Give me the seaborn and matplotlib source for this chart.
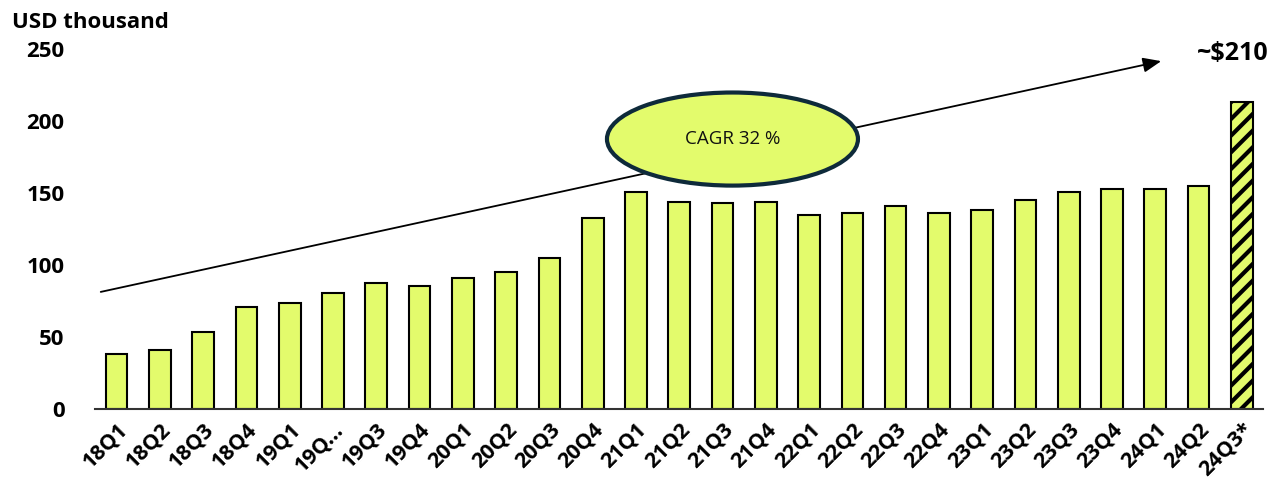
import numpy as np
import pandas as pd
import matplotlib
matplotlib.use("Agg")
import matplotlib.pyplot as plt
from matplotlib.patches import Ellipse
import seaborn as sns

# Quarterly values (USD thousand)
quarters = ["18Q1", "18Q2", "18Q3", "18Q4", "19Q1", "19Q...", "19Q3", "19Q4",
            "20Q1", "20Q2", "20Q3", "20Q4", "21Q1", "21Q2", "21Q3", "21Q4",
            "22Q1", "22Q2", "22Q3", "22Q4", "23Q1", "23Q2", "23Q3", "23Q4",
            "24Q1", "24Q2", "24Q3*"]
values = [38, 41, 53.5, 71, 73.5, 80.5, 87.5, 85.5,
          91, 95, 105, 133, 151, 144, 143, 144,
          135, 136, 141, 136, 138, 145, 151, 153,
          153, 155, 213]
y_ticks = [0, 50, 100, 150, 200, 250]
cagr_label = "CAGR 32 %"
end_label = "~$210"
unit_label = "USD thousand"

bar_color = "#E3FB6C"

sns.set_style("white")
plt.rcParams["font.family"] = ["Open Sans", "DejaVu Sans"]
plt.rcParams["hatch.linewidth"] = 3
plt.rcParams["text.color"] = "black"
plt.rcParams["xtick.color"] = "black"
plt.rcParams["ytick.color"] = "black"

df = pd.DataFrame({"quarter": quarters, "value": values})

fig = plt.figure(figsize=(12.84, 4.93), dpi=100)
ax = fig.add_axes([0.074, 0.170, 0.910, 0.7306])

sns.barplot(data=df, x="quarter", y="value", color=bar_color, saturation=1,
            width=0.5, edgecolor="black", linewidth=1.5, ax=ax)

# forecast bar is hatched
ax.patches[-1].set_hatch("//")

ax.set_ylim(0, 250)
ax.set_xlim(-0.5, len(quarters) - 0.5)
ax.set_yticks(y_ticks)
ax.set_yticklabels([str(t) for t in y_ticks], fontsize=16, fontweight="bold")
ax.set_xticks(range(len(quarters)))
ax.set_xticklabels(quarters, rotation=45, ha="right", va="top",
                   rotation_mode="anchor", fontsize=15.5, fontweight="bold")
ax.tick_params(axis="y", length=0, pad=22, labelcolor="black")
ax.tick_params(axis="x", length=0, pad=7, labelcolor="black")
ax.set_xlabel("")
ax.set_ylabel("")

for side in ["top", "right", "left"]:
    ax.spines[side].set_visible(False)
ax.spines["bottom"].set_color("#333333")
ax.spines["bottom"].set_linewidth(1.5)

# growth arrow
ax.annotate("", xy=(24.2, 242), xytext=(-0.43, 81),
            arrowprops=dict(arrowstyle="-|>,head_length=1.1,head_width=0.45",
                            color="black", lw=1.3), zorder=3)

# CAGR bubble
ell = Ellipse((14.23, 187.5), 5.8, 64.6, facecolor=bar_color,
              edgecolor="#0E2A3A", linewidth=3, zorder=4)
ax.add_patch(ell)
ax.text(14.23, 187.5, cagr_label, ha="center", va="center", fontsize=13.5,
        color="#111111", zorder=5)

ax.text(24.95, 247, end_label, ha="left", va="center", fontsize=18,
        fontweight="bold", color="black", clip_on=False)

fig.text(12 / 1284, 1 - 22 / 493, unit_label, ha="left", va="center",
         fontsize=16, fontweight="bold", color="black")

plt.savefig("out.png", dpi=100)
plt.close()
